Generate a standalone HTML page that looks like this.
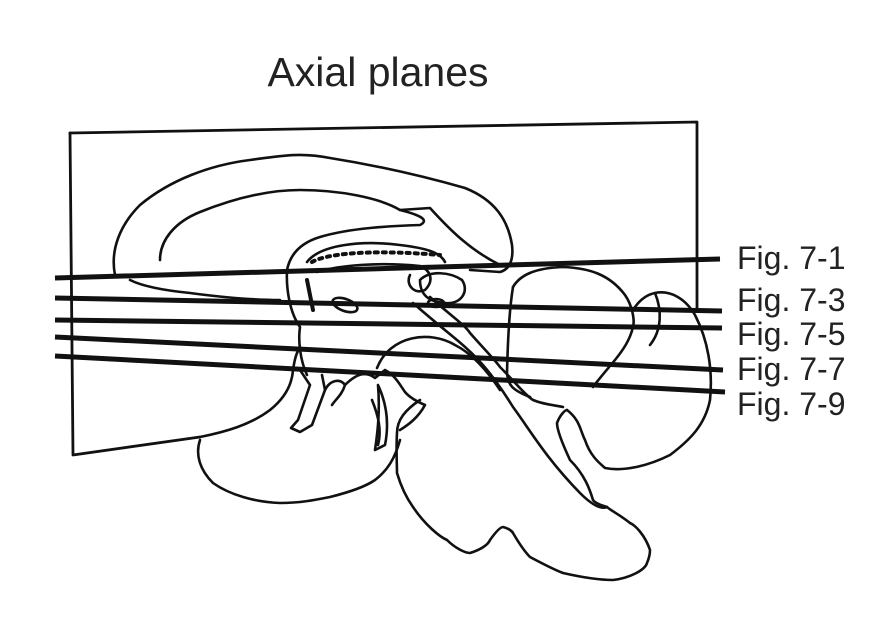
<!DOCTYPE html>
<html><head><meta charset="utf-8"><style>
html,body{margin:0;padding:0;background:#fff;}
svg{display:block}
text{font-family:"Liberation Sans",Arial,sans-serif;fill:#222}
</style></head><body>
<svg width="888" height="636" viewBox="0 0 888 636" xmlns="http://www.w3.org/2000/svg">
<text x="378" y="86" font-size="41" text-anchor="middle">Axial planes</text>
<g fill="none" stroke="#111" stroke-width="2.6" stroke-linejoin="round" stroke-linecap="round">
<path d="M70 133 L697 122 L697 310" stroke-width="2.8"/>
<path d="M70 133 L73 455 L200 437" stroke-width="2.8"/>
<path d="M115 275 C110 250 120 225 140 205 C170 180 210 165 250 160 C280 156 300 152 330 158 C380 166 430 178 465 188 C495 200 508 220 512 245 C514 262 508 270 500 272 L470 270"/>
<path d="M130 280 C140 285 160 290 190 293 C220 297 250 300 280 300"/>
<path d="M160 260 C160 240 175 222 200 212 C235 198 270 190 300 190 C340 190 380 198 400 210 L430 208 C450 230 470 250 500 265"/>
<path d="M400 210 C420 215 430 220 420 225 C390 226 350 228 320 237 C300 243 290 255 287 270 C286 290 290 313 300 327 C298 340 300 360 307 375"/>
<path d="M307 262 C320 245 360 240 400 245 C425 248 440 252 445 262"/>
<path d="M312 262 C330 252 380 250 440 255" stroke-dasharray="3 5" stroke-width="4"/>
<path d="M317 272 C340 265 380 262 420 266 C430 270 435 280 425 290 C415 295 405 285 410 275"/>
<path d="M307 280 L313 310" stroke-width="4"/>
<ellipse cx="345" cy="305" rx="13" ry="6" transform="rotate(20 345 305)"/>
<path d="M420 280 C430 270 450 272 462 280 C470 292 460 305 445 303 C430 302 420 296 420 280"/>
<ellipse cx="436" cy="303" rx="8" ry="4"/>
<path d="M413 303 C430 318 445 330 457 340 C475 355 490 370 513 407 C530 430 545 457 580 493 C590 503 600 510 607 507"/>
<path d="M430 297 C450 315 465 325 470 333 C485 350 495 360 500 367 C515 382 525 395 533 400 C545 405 555 405 563 407"/>
<path d="M377 368 C390 335 430 330 455 345 C475 355 490 375 500 390"/>
<path d="M420 400 C405 410 397 420 397 433 C396 450 397 465 397 473 C402 490 408 500 413 507 C425 525 440 537 447 540 C455 548 465 553 470 553 C480 550 488 545 490 540 C495 533 500 527 503 527 C508 528 512 531 513 533 C520 545 525 552 530 557 C545 565 555 570 563 573 C585 578 600 580 613 580 C630 578 645 570 647 563 C650 556 650 550 650 550 C645 535 635 525 630 523 C620 515 610 510 607 507 C600 505 595 503 593 500 C590 490 585 475 570 460 C563 445 557 430 557 423 C560 415 565 410 567 410"/>
<path d="M567 410 C580 420 580 430 585 440 C590 455 598 462 605 468 C625 472 650 465 670 455 C690 440 705 425 710 400 C713 370 708 340 695 315 C685 298 670 290 655 293 C645 295 638 302 633 310"/>
<path d="M513 287 C520 275 535 268 563 267 C590 268 610 275 625 295 C632 305 635 320 633 327 C630 340 623 350 615 360 C605 372 598 380 593 387"/>
<path d="M513 287 C510 305 508 330 507 373 C508 385 512 390 530 397"/>
<path d="M655 293 C662 310 662 330 650 345"/>
<path d="M200 440 C195 455 200 470 213 483 C230 495 255 502 280 503 C300 503 315 500 330 497 C350 492 365 487 375 480 C388 470 395 458 400 440"/>
<path d="M200 437 C225 432 250 425 270 410 C285 398 292 385 293 370 C296 350 300 345 305 350"/>
<path d="M300 370 L310 385 L298 420 L291 428 L300 432 L312 425 L325 390 L322 375"/>
<path d="M325 390 C330 380 340 378 345 385 C342 395 335 400 332 405"/>
<path d="M345 385 C355 375 365 370 375 378 L385 370 C395 375 400 385 405 392 C410 398 418 402 425 405 C418 418 408 425 400 430"/>
<path d="M378 385 C385 400 390 420 385 445 L375 450 C378 430 380 410 378 385"/>
<path d="M372 400 C378 415 382 430 378 445"/>
</g>
<g stroke="#111" stroke-width="5" stroke-linecap="butt">
<line x1="55" y1="278" x2="720" y2="259"/>
<line x1="55" y1="298" x2="722" y2="311"/>
<line x1="55" y1="320" x2="722" y2="328"/>
<line x1="55" y1="337" x2="723" y2="370"/>
<line x1="55" y1="356" x2="725" y2="392"/>
</g>
<g font-size="32">
<text x="737" y="269">Fig. 7-1</text>
<text x="737" y="311">Fig. 7-3</text>
<text x="737" y="345">Fig. 7-5</text>
<text x="737" y="380">Fig. 7-7</text>
<text x="737" y="415">Fig. 7-9</text>
</g>
</svg>
</body></html>
